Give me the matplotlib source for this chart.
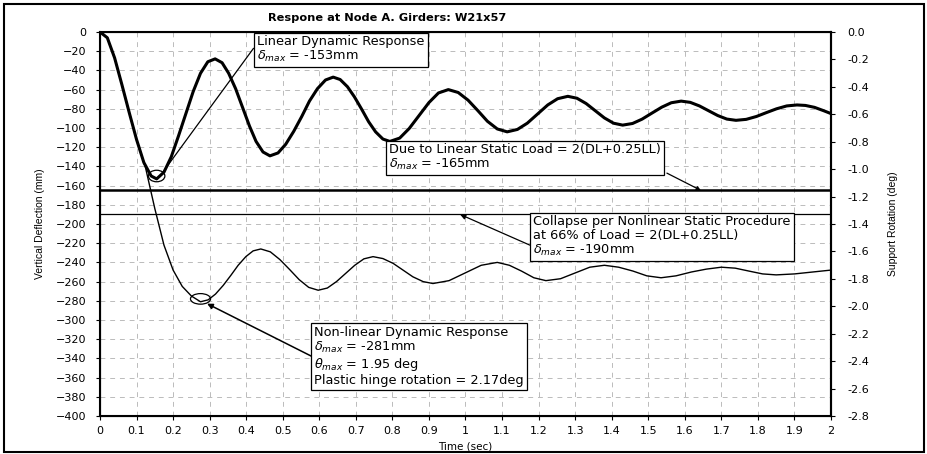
import numpy as np
import matplotlib.pyplot as plt
from matplotlib.patches import Ellipse, Rectangle

plt.rcParams['font.family'] = ['DejaVu Sans']

# Linear dynamic response (mm)
t_lin = [0, 0.02, 0.04, 0.06, 0.08, 0.1, 0.12, 0.14, 0.155,
         0.175, 0.195, 0.215, 0.235, 0.255, 0.275, 0.295, 0.315,
         0.334, 0.352, 0.371, 0.39, 0.409, 0.427, 0.446, 0.465,
         0.487, 0.508, 0.53, 0.552, 0.573, 0.595, 0.617, 0.638,
         0.657, 0.677, 0.696, 0.716, 0.735, 0.754, 0.774, 0.793,
         0.82, 0.846, 0.873, 0.9, 0.926, 0.953,
         0.98, 1.007, 1.034, 1.06, 1.087, 1.114,
         1.142, 1.169, 1.197, 1.225, 1.252, 1.28,
         1.305, 1.33, 1.355, 1.38, 1.405, 1.43,
         1.457, 1.483, 1.51, 1.537, 1.563, 1.59,
         1.615, 1.64, 1.665, 1.69, 1.715, 1.74,
         1.768, 1.796, 1.823, 1.851, 1.879, 1.907,
         1.93, 1.955, 1.98, 2.0]
y_lin = [0, -6, -27, -55, -84, -112, -136, -150, -153,
         -146, -130, -108, -85, -62, -43, -31, -28,
         -32, -43, -59, -78.5, -98, -114, -125, -129,
         -126, -117, -103.5, -88, -72, -59, -50, -47,
         -49.5, -57, -67.5, -80.5, -93.5, -104, -111.5, -114,
         -110.5, -100.5, -87, -73.5, -63.5, -60,
         -63, -71, -82, -93, -101, -104,
         -101.5, -95, -85.5, -76, -69.5, -67,
         -69, -74.5, -82, -89.5, -95, -97,
         -95.3, -90.8, -84.5, -78.3, -73.7, -72,
         -73.3, -77, -82, -87, -90.7, -92,
         -91, -88, -84, -80, -77, -76,
         -76.5, -78.5, -82, -85]

# Non-linear dynamic response (mm)
t_nl = [0, 0.02, 0.04, 0.06, 0.08, 0.1, 0.125, 0.15, 0.175, 0.2, 0.225, 0.25, 0.275,
        0.296, 0.316, 0.337, 0.358, 0.378, 0.399, 0.419, 0.44,
        0.466, 0.492, 0.519, 0.545, 0.571, 0.597,
        0.622, 0.647, 0.672, 0.697, 0.722, 0.747,
        0.774, 0.802, 0.829, 0.856, 0.884, 0.911,
        0.955, 0.999, 1.043, 1.087,
        1.12, 1.153, 1.187, 1.22,
        1.26, 1.3, 1.34, 1.38,
        1.419, 1.458, 1.496, 1.535,
        1.576, 1.618, 1.659, 1.7,
        1.738, 1.775, 1.813, 1.85,
        1.9, 1.95, 2.0]
y_nl = [0, -6, -27, -55, -84, -112, -142, -184, -222, -248, -265, -275, -281,
        -279, -273, -264, -253.5, -243, -234, -228, -226,
        -229, -237, -247.5, -258, -266, -269,
        -266.7, -260, -251.5, -243, -236.3, -234,
        -236, -241, -248, -255, -260, -262,
        -259, -251, -243, -240,
        -243, -249, -256, -259,
        -257, -251, -245, -243,
        -245, -249, -254, -256,
        -254, -250, -247, -245,
        -246, -249, -252, -253,
        -252, -250, -248]

static_lin = -165
static_nl = -190

fig = plt.figure(figsize=(9.28, 4.54), dpi=100)
ax = fig.add_axes([100/928, 1-416/454, 731/928, 384/454])

ax.plot(t_lin, y_lin, color='black', lw=2.2, solid_joinstyle='round')
ax.plot(t_nl, y_nl, color='black', lw=1.0, solid_joinstyle='round')
ax.axhline(static_lin, color='black', lw=1.8)
ax.axhline(static_nl, color='black', lw=0.9)

ax.set_xlim(0, 2)
ax.set_ylim(-400, 0)
ax.set_xticks(np.arange(0, 2.01, 0.1))
ax.set_xticklabels(['0', '0.1', '0.2', '0.3', '0.4', '0.5', '0.6', '0.7', '0.8', '0.9', '1',
                    '1.1', '1.2', '1.3', '1.4', '1.5', '1.6', '1.7', '1.8', '1.9', '2'])
ax.set_yticks(np.arange(-400, 1, 20))
ax.grid(True, color='#bbbbbb', ls=(0, (5, 5)), lw=0.7)
ax.tick_params(axis='y', labelsize=8, length=3, direction='out', pad=7)
ax.tick_params(axis='x', labelsize=8, length=3, direction='out', pad=4)
for s in ax.spines.values():
    s.set_linewidth(1.5)

ax2 = ax.twinx()
ax2.set_ylim(-2.8, 0)
ax2.set_yticks(np.arange(-2.8, 0.01, 0.2))
ax2.set_yticklabels([f'{v:.1f}' for v in np.arange(-2.8, 0.01, 0.2)])
ax2.tick_params(labelsize=8, length=3, direction='out', pad=9)
ax2.spines['right'].set_linewidth(1.5)

ax.set_xlabel('Time (sec)', fontsize=7.5)
ax.xaxis.set_label_coords(0.5, -0.066)
ax.set_ylabel('Vertical Deflection (mm)', fontsize=7.5, family='Liberation Sans')
ax.yaxis.set_label_coords(-0.075, 0.5)
ax2.set_ylabel('Support Rotation (deg)', fontsize=7.5, family='Liberation Sans')
ax2.yaxis.set_label_coords(1.078, 0.5)
fig.text(387/928, 1-18/454, 'Respone at Node A. Girders: W21x57', fontsize=8.2,
         fontweight='bold', ha='center', va='center')

box = dict(boxstyle='square,pad=0.25', fc='white', ec='black', lw=0.9)
fs = 9.3

# markers around the peaks
ax.add_patch(Ellipse((0.155, -150), 0.045, 12, fill=False, ec='black', lw=0.9, zorder=4))
ax.add_patch(Ellipse((0.275, -278), 0.055, 11, fill=False, ec='black', lw=0.9, zorder=4))

ax.annotate('', xy=(0.172, -146), xytext=(0.42, -17),
            arrowprops=dict(arrowstyle='-', color='black', lw=0.9, shrinkA=0, shrinkB=0))
ax.text(0.43, -3, 'Linear Dynamic Response\n$\\delta_{max}$ = -153mm', fontsize=fs,
        va='top', ha='left', bbox=box, linespacing=1.1)

ax.annotate('', xy=(1.644, -165), xytext=(1.551, -147),
            arrowprops=dict(arrowstyle='-|>', color='black', lw=0.9, mutation_scale=6,
                            shrinkA=0, shrinkB=0))
ax.text(0.79, -146, 'Due to Linear Static Load = 2(DL+0.25LL)\n$\\delta_{max}$ = -165mm',
        fontsize=fs, va='bottom', ha='left', bbox=box, linespacing=1.1)

ax.annotate('', xy=(0.985, -190), xytext=(1.176, -222),
            arrowprops=dict(arrowstyle='-|>', color='black', lw=0.9, mutation_scale=8,
                            shrinkA=0, shrinkB=0))
ax.text(1.185, -213, 'Collapse per Nonlinear Static Procedure\nat 66% of Load = 2(DL+0.25LL)\n$\\delta_{max}$ = -190mm',
        fontsize=fs, va='center', ha='left', bbox=box, linespacing=1.1)

ax.annotate('', xy=(0.293, -283), xytext=(0.58, -338),
            arrowprops=dict(arrowstyle='-|>', color='black', lw=1.1, mutation_scale=8,
                            shrinkA=0, shrinkB=0))
ax.text(0.585, -306, 'Non-linear Dynamic Response\n$\\delta_{max}$ = -281mm\n$\\theta_{max}$ = 1.95 deg\nPlastic hinge rotation = 2.17deg',
        fontsize=fs, va='top', ha='left', bbox=box, linespacing=1.1)

fig.patches.append(Rectangle((4/928, 2/454), 920/928, 448/454, transform=fig.transFigure,
                             fill=False, ec='black', lw=1.5))

fig.savefig('out.png', dpi=100)
